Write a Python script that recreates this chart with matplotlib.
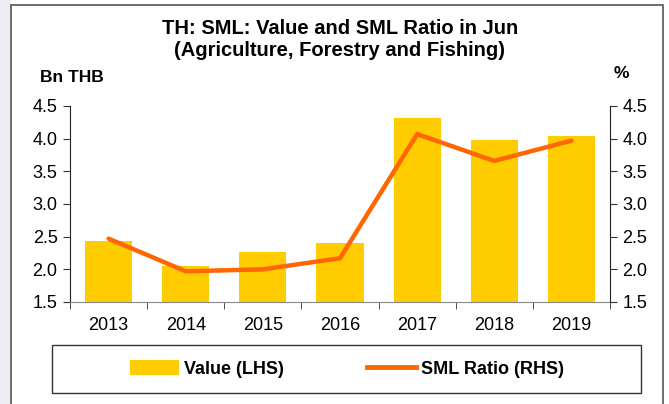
import numpy as np
import matplotlib
matplotlib.use("Agg")
from matplotlib import pyplot as plt
from matplotlib.patches import Rectangle

years = ["2013", "2014", "2015", "2016", "2017", "2018", "2019"]
value_lhs = [2.43, 2.05, 2.27, 2.40, 4.31, 3.98, 4.04]
sml_ratio = [2.47, 1.97, 2.00, 2.17, 4.07, 3.66, 3.97]
y_ticks = [1.5, 2.0, 2.5, 3.0, 3.5, 4.0, 4.5]

plt.rcParams['font.family'] = ['Liberation Sans', 'DejaVu Sans']

bar_col = '#FFCC00'
line_col = '#FF6600'
W, H = 669, 404

fig = plt.figure(figsize=(6.69, 4.04), dpi=100)
fig.patch.set_facecolor('white')

# light strip on the left, outside the chart frame
fig.patches.append(Rectangle((0, 0), 11/W, 1, transform=fig.transFigure,
                             facecolor='#eceef4', edgecolor='none', zorder=0))
# chart frame
fig.patches.append(Rectangle((11/W, -0.01), (663-11)/W, (H-5)/H + 0.01,
                             transform=fig.transFigure, facecolor='white',
                             edgecolor='#555555', linewidth=1.2, zorder=1))
# legend frame
fig.patches.append(Rectangle((52/W, 1 - 393/H), (641-52)/W, 48/H,
                             transform=fig.transFigure, facecolor='white',
                             edgecolor='#333333', linewidth=1.0, zorder=2))

ax = fig.add_axes([70/W, 1 - 302/H, (610-70)/W, (302-106)/H])
ax.set_zorder(3)
ax.patch.set_alpha(0)
x = np.arange(len(years))

ax.bar(x, value_lhs, width=0.61, color=bar_col, zorder=2)
ax.set_ylim(1.5, 4.5)
ax.set_xlim(-0.5, len(years) - 0.5)
ax.set_yticks(y_ticks)
ax.set_yticklabels([f"{t:.1f}" for t in y_ticks], fontsize=13)
ax.set_xticks(x)
ax.set_xticklabels(years, fontsize=13)
ax.tick_params(axis='x', length=0, pad=11)
ax.set_xticks(np.arange(-0.5, len(years)), minor=True)
ax.tick_params(axis='x', which='minor', length=5, color='#333333')
ax.tick_params(axis='y', length=5, color='#333333', pad=4)
ax.spines['top'].set_visible(False)
ax.spines['right'].set_visible(False)
ax.spines['bottom'].set_color('#888888')
ax.spines['left'].set_color('#222222')

ax2 = ax.twinx()
ax2.plot(x, sml_ratio, color=line_col, linewidth=3.2, solid_capstyle='round', zorder=4)
ax2.set_ylim(1.5, 4.5)
ax2.set_yticks(y_ticks)
ax2.set_yticklabels([f"{t:.1f}" for t in y_ticks], fontsize=13)
ax2.tick_params(axis='y', length=5, color='#333333', pad=4)
for s in ['top', 'left', 'bottom']:
    ax2.spines[s].set_visible(False)
ax2.spines['right'].set_color('#222222')

fig.text(340/W, 1 - 29/H, "TH: SML: Value and SML Ratio in Jun",
         ha='center', va='center', fontsize=14.5, fontweight='bold')
fig.text(340/W, 1 - 50/H, "(Agriculture, Forestry and Fishing)",
         ha='center', va='center', fontsize=14.5, fontweight='bold')
fig.text(40/W, 1 - 77/H, "Bn THB", ha='left', va='center',
         fontsize=12.5, fontweight='bold')
fig.text(621/W, 1 - 73/H, "%", ha='center', va='center',
         fontsize=12.5, fontweight='bold')

h1 = Rectangle((0, 0), 1, 1, facecolor=bar_col, edgecolor='none')
h2, = ax.plot([], [], color=line_col, linewidth=3.5)
leg = fig.legend([h1, h2], ["Value (LHS)", "SML Ratio (RHS)"], ncol=2,
                 loc='center', bbox_to_anchor=(347/W, 1 - 369/H),
                 frameon=False, prop={'weight': 'bold', 'size': 13},
                 handlelength=2.7, handleheight=0.9, columnspacing=4.6,
                 handletextpad=0.3)
leg.set_zorder(5)

plt.savefig("out.png", dpi=100)
plt.close()
